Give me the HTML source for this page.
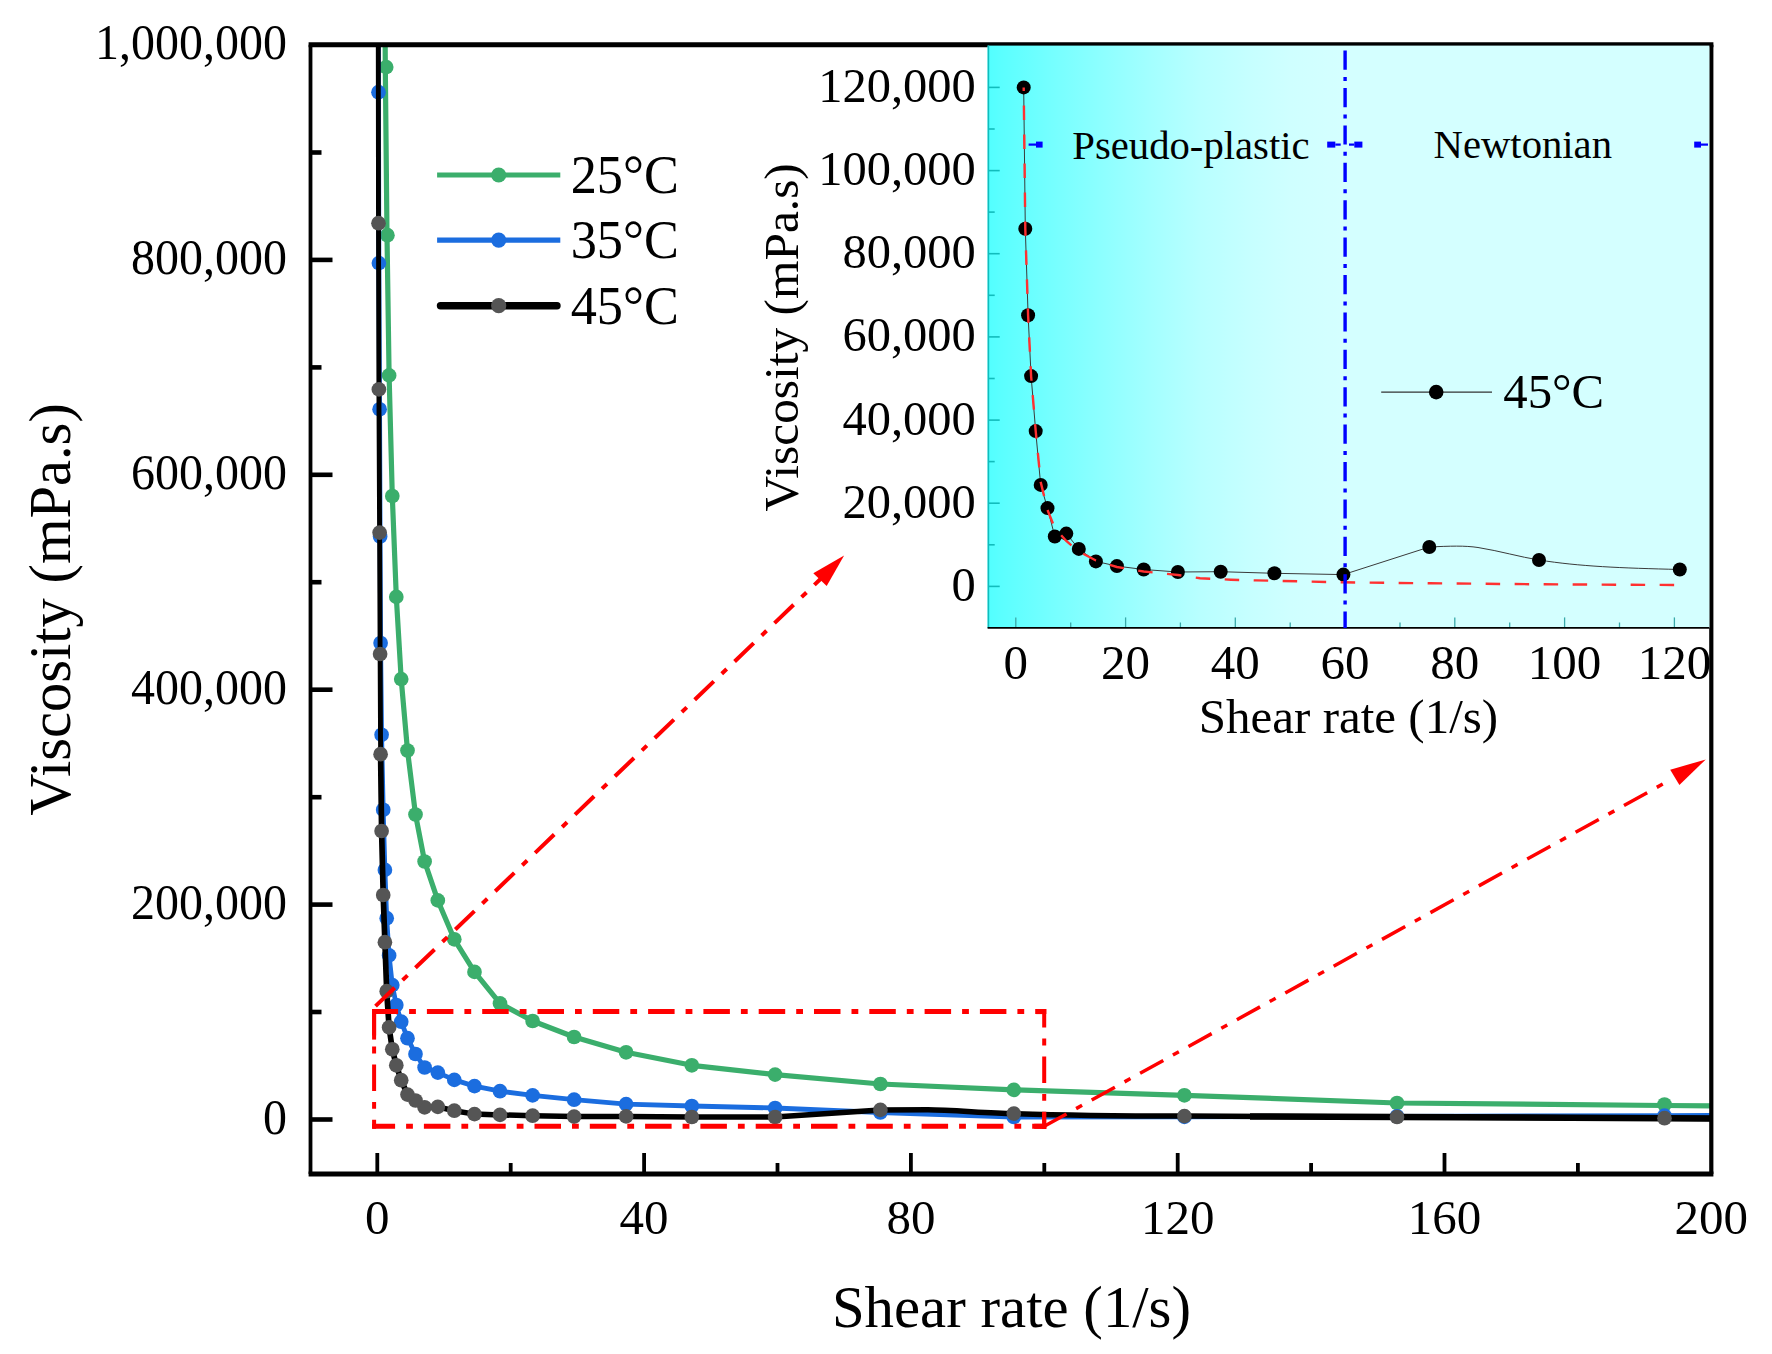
<!DOCTYPE html>
<html><head><meta charset="utf-8"><title>Viscosity vs shear rate</title>
<style>
html,body{margin:0;padding:0;background:#fff;}
body{width:1772px;height:1354px;overflow:hidden;}
svg{display:block;}
text{font-family:"Liberation Serif", "Times New Roman", serif;fill:#000;}
</style></head><body>
<svg width="1772" height="1354" viewBox="0 0 1772 1354">
<defs>
<linearGradient id="ig" gradientUnits="userSpaceOnUse" x1="988" y1="0" x2="1711" y2="0">
<stop offset="0.0000" stop-color="rgb(82,255,255)"/><stop offset="0.0166" stop-color="rgb(90,255,255)"/><stop offset="0.0858" stop-color="rgb(116,255,255)"/><stop offset="0.1549" stop-color="rgb(140,255,255)"/><stop offset="0.2241" stop-color="rgb(163,255,255)"/><stop offset="0.2932" stop-color="rgb(184,255,255)"/><stop offset="0.3624" stop-color="rgb(198,255,255)"/><stop offset="0.4177" stop-color="rgb(207,255,255)"/><stop offset="0.4869" stop-color="rgb(212,255,255)"/><stop offset="1.0000" stop-color="rgb(212,255,255)"/></linearGradient>
<clipPath id="mc"><rect x="310.5" y="44.7" width="1400.8" height="1129.3"/></clipPath>
</defs>
<rect width="1772" height="1354" fill="#fff"/>
<g clip-path="url(#mc)">
<path d="M1711.3,1105.9 L1664.5,1105.5 L1397.0,1103.0 L1184.4,1095.3 L1013.8,1089.9 L880.4,1084.0 L775.1,1074.6 L691.8,1065.3 L626.1,1052.3 L574.1,1037.0 L532.6,1021.0 L500.0,1003.4 L474.5,971.9 L454.3,939.3 L437.8,900.4 L424.6,861.5 L415.5,814.5 L407.5,750.5 L401.2,679.1 L396.3,596.9 L392.3,496.0 L389.1,375.4 L387.0,235.2 L385.3,67.1 L384.2,-140.0" fill="none" stroke="#3bae6c" stroke-width="5.2" stroke-linejoin="round"/>
<circle cx="1664.5" cy="1104.5" r="7.35" fill="#3bae6c"/><circle cx="1397.0" cy="1103.0" r="7.35" fill="#3bae6c"/><circle cx="1184.4" cy="1095.3" r="7.35" fill="#3bae6c"/><circle cx="1013.8" cy="1089.9" r="7.35" fill="#3bae6c"/><circle cx="880.4" cy="1084.0" r="7.35" fill="#3bae6c"/><circle cx="775.1" cy="1074.6" r="7.35" fill="#3bae6c"/><circle cx="691.8" cy="1065.3" r="7.35" fill="#3bae6c"/><circle cx="626.1" cy="1052.3" r="7.35" fill="#3bae6c"/><circle cx="574.1" cy="1037.0" r="7.35" fill="#3bae6c"/><circle cx="532.6" cy="1021.0" r="7.35" fill="#3bae6c"/><circle cx="500.0" cy="1003.4" r="7.35" fill="#3bae6c"/><circle cx="474.5" cy="971.9" r="7.35" fill="#3bae6c"/><circle cx="454.3" cy="939.3" r="7.35" fill="#3bae6c"/><circle cx="437.8" cy="900.4" r="7.35" fill="#3bae6c"/><circle cx="424.6" cy="861.5" r="7.35" fill="#3bae6c"/><circle cx="415.5" cy="814.5" r="7.35" fill="#3bae6c"/><circle cx="407.5" cy="750.5" r="7.35" fill="#3bae6c"/><circle cx="401.2" cy="679.1" r="7.35" fill="#3bae6c"/><circle cx="396.3" cy="596.9" r="7.35" fill="#3bae6c"/><circle cx="392.3" cy="496.0" r="7.35" fill="#3bae6c"/><circle cx="389.1" cy="375.4" r="7.35" fill="#3bae6c"/><circle cx="387.4" cy="235.2" r="7.35" fill="#3bae6c"/><circle cx="386.2" cy="67.1" r="7.35" fill="#3bae6c"/>
<path d="M1711.3,1115.5 L1664.5,1115.7 L1397.0,1116.3 L1184.4,1116.9 L1013.8,1117.0 L880.4,1112.5 L775.1,1108.0 L691.8,1106.0 L626.1,1104.1 L574.1,1099.7 L532.6,1095.4 L500.0,1091.2 L474.5,1086.1 L454.3,1079.9 L437.8,1072.6 L424.6,1067.5 L415.5,1054.0 L407.5,1038.2 L401.2,1021.7 L396.3,1005.0 L392.3,985.1 L389.1,955.4 L386.7,918.2 L384.9,869.9 L383.2,809.8 L381.6,734.8 L380.6,643.0 L380.1,536.5 L379.6,409.3 L378.9,263.1 L378.5,92.2 L378.2,-100.0" fill="none" stroke="#1b6ddf" stroke-width="4.8" stroke-linejoin="round"/>
<circle cx="1664.5" cy="1115.7" r="7.35" fill="#1b6ddf"/><circle cx="1397.0" cy="1116.3" r="7.35" fill="#1b6ddf"/><circle cx="1184.4" cy="1116.9" r="7.35" fill="#1b6ddf"/><circle cx="1013.8" cy="1117.0" r="7.35" fill="#1b6ddf"/><circle cx="880.4" cy="1112.5" r="7.35" fill="#1b6ddf"/><circle cx="775.1" cy="1108.0" r="7.35" fill="#1b6ddf"/><circle cx="691.8" cy="1106.0" r="7.35" fill="#1b6ddf"/><circle cx="626.1" cy="1104.1" r="7.35" fill="#1b6ddf"/><circle cx="574.1" cy="1099.7" r="7.35" fill="#1b6ddf"/><circle cx="532.6" cy="1095.4" r="7.35" fill="#1b6ddf"/><circle cx="500.0" cy="1091.2" r="7.35" fill="#1b6ddf"/><circle cx="474.5" cy="1086.1" r="7.35" fill="#1b6ddf"/><circle cx="454.3" cy="1079.9" r="7.35" fill="#1b6ddf"/><circle cx="437.8" cy="1072.6" r="7.35" fill="#1b6ddf"/><circle cx="424.6" cy="1067.5" r="7.35" fill="#1b6ddf"/><circle cx="415.5" cy="1054.0" r="7.35" fill="#1b6ddf"/><circle cx="407.5" cy="1038.2" r="7.35" fill="#1b6ddf"/><circle cx="401.2" cy="1021.7" r="7.35" fill="#1b6ddf"/><circle cx="396.3" cy="1005.0" r="7.35" fill="#1b6ddf"/><circle cx="392.3" cy="985.1" r="7.35" fill="#1b6ddf"/><circle cx="389.1" cy="955.4" r="7.35" fill="#1b6ddf"/><circle cx="386.7" cy="918.2" r="7.35" fill="#1b6ddf"/><circle cx="384.9" cy="869.9" r="7.35" fill="#1b6ddf"/><circle cx="383.2" cy="809.8" r="7.35" fill="#1b6ddf"/><circle cx="381.6" cy="734.8" r="7.35" fill="#1b6ddf"/><circle cx="380.6" cy="643.0" r="7.35" fill="#1b6ddf"/><circle cx="380.1" cy="536.5" r="7.35" fill="#1b6ddf"/><circle cx="379.6" cy="409.3" r="7.35" fill="#1b6ddf"/><circle cx="378.9" cy="263.1" r="7.35" fill="#1b6ddf"/><circle cx="378.5" cy="92.2" r="7.35" fill="#1b6ddf"/>
<path d="M1711.3,1118.5 L1664.5,1118.2 L1397,1117 L1184.4,1116.1 C1080,1115.8 1050,1114.8 1013.8,1113.6 C985,1112.8 950,1110 928,1109.8 L880.4,1109.9 L775.1,1117 L691.8,1117.0 L626.1,1116.4 L574.1,1116.6 L532.6,1115.7 L500.0,1114.9 L474.5,1114.1 L454.3,1110.7 L437.8,1106.9 L424.6,1107.3 L415.5,1100.5 L407.5,1094.6" fill="none" stroke="#000" stroke-width="5.5" stroke-linejoin="round"/><path d="M1711.3,1118.5 L1664.5,1118.2 L1397,1117 L1250,1116.5" fill="none" stroke="#000" stroke-width="6.5" stroke-linejoin="round"/><path d="M407.5,1094.6 L401.2,1080.2 L396.3,1065.3 L392.3,1049.3 L389.1,1027.4 L386.7,991.2 L384.9,942.2 L383.2,895.0 L381.6,831.0 L380.6,754.2" fill="none" stroke="#000" stroke-width="5.7" stroke-linejoin="round"/><path d="M380.6,754.2 L380.1,654.0 L379.6,532.6 L378.9,389.4 L378.5,223.2 L378.2,-20.0" fill="none" stroke="#000" stroke-width="4.9" stroke-linejoin="round"/><path d="M1711.3,1118.5 L1664.5,1118.2 L1397.0,1117.0 L1184.4,1116.1 L1013.8,1113.6 L880.4,1109.9 L775.1,1117.0 L691.8,1117.0 L626.1,1116.4 L574.1,1116.6 L532.6,1115.7 L500.0,1114.9 L474.5,1114.1 L454.3,1110.7 L437.8,1106.9 L424.6,1107.3 L415.5,1100.5 L407.5,1094.6 L401.2,1080.2 L396.3,1065.3 L392.3,1049.3 L389.1,1027.4 L386.7,991.2 L384.9,942.2 L383.2,895.0 L381.6,831.0 L380.6,754.2 L380.1,654.0 L379.6,532.6 L378.9,389.4 L378.5,223.2 L378.2,-20.0" fill="none" stroke="none" stroke-width="0" stroke-linejoin="round"/>
<circle cx="1664.5" cy="1118.2" r="7.35" fill="#555555"/><circle cx="1397.0" cy="1117.0" r="7.35" fill="#555555"/><circle cx="1184.4" cy="1116.1" r="7.35" fill="#555555"/><circle cx="1013.8" cy="1113.6" r="7.35" fill="#555555"/><circle cx="880.4" cy="1109.9" r="7.35" fill="#555555"/><circle cx="775.1" cy="1117.0" r="7.35" fill="#555555"/><circle cx="691.8" cy="1117.0" r="7.35" fill="#555555"/><circle cx="626.1" cy="1116.4" r="7.35" fill="#555555"/><circle cx="574.1" cy="1116.6" r="7.35" fill="#555555"/><circle cx="532.6" cy="1115.7" r="7.35" fill="#555555"/><circle cx="500.0" cy="1114.9" r="7.35" fill="#555555"/><circle cx="474.5" cy="1114.1" r="7.35" fill="#555555"/><circle cx="454.3" cy="1110.7" r="7.35" fill="#555555"/><circle cx="437.8" cy="1106.9" r="7.35" fill="#555555"/><circle cx="424.6" cy="1107.3" r="7.35" fill="#555555"/><circle cx="415.5" cy="1100.5" r="7.35" fill="#555555"/><circle cx="407.5" cy="1094.6" r="7.35" fill="#555555"/><circle cx="401.2" cy="1080.2" r="7.35" fill="#555555"/><circle cx="396.3" cy="1065.3" r="7.35" fill="#555555"/><circle cx="392.3" cy="1049.3" r="7.35" fill="#555555"/><circle cx="389.1" cy="1027.4" r="7.35" fill="#555555"/><circle cx="386.7" cy="991.2" r="7.35" fill="#555555"/><circle cx="384.9" cy="942.2" r="7.35" fill="#555555"/><circle cx="383.2" cy="895.0" r="7.35" fill="#555555"/><circle cx="381.6" cy="831.0" r="7.35" fill="#555555"/><circle cx="380.6" cy="754.2" r="7.35" fill="#555555"/><circle cx="380.1" cy="654.0" r="7.35" fill="#555555"/><circle cx="379.6" cy="532.6" r="7.35" fill="#555555"/><circle cx="378.9" cy="389.4" r="7.35" fill="#555555"/><circle cx="378.5" cy="223.2" r="7.35" fill="#555555"/>
</g>
<g stroke="#ff0000" fill="none">
<line x1="372.1" y1="1011.6" x2="1046.2" y2="1011.6" stroke-width="5" stroke-dasharray="26.5 11 6.8 11" stroke-dashoffset="0.5"/>
<line x1="372.1" y1="1126.3" x2="1046.2" y2="1126.3" stroke-width="5" stroke-dasharray="26.5 11 6.8 11" stroke-dashoffset="3.5"/>
<line x1="374.1" y1="1009.1" x2="374.1" y2="1128.8" stroke-width="4" stroke-dasharray="26.5 11 6.8 11" stroke-dashoffset="0"/><line x1="374.1" y1="1011.6" x2="374.1" y2="1039.6" stroke-width="4"/>
<line x1="1044.2" y1="1009.1" x2="1044.2" y2="1128.8" stroke-width="4" stroke-dasharray="26.5 11 6.8 11" stroke-dashoffset="8"/>
<line x1="1036.2" y1="1011.6" x2="1046.2" y2="1011.6" stroke-width="5"/><line x1="1034.2" y1="1126.3" x2="1046.2" y2="1126.3" stroke-width="5"/><line x1="1044.2" y1="1112.3" x2="1044.2" y2="1128.8" stroke-width="4"/><line x1="373" y1="1008.5" x2="821" y2="578.5" stroke-width="4.0" stroke-dasharray="26.5 11 6.8 11" stroke-dashoffset="-3.5"/>
<line x1="1044.2" y1="1126.3" x2="1664" y2="783.4" stroke-width="3.5" stroke-dasharray="26.5 11 6.8 11" stroke-dashoffset="1"/>
</g>
<polygon points="844.1,555.6 813.3,573.3 826.7,586" fill="#ff0000"/>
<polygon points="1705.8,759.4 1670.2,769.8 1679.4,785" fill="#ff0000"/>
<g stroke="#000" fill="none">
<line x1="377.3" y1="1174.0" x2="377.3" y2="1153.0" stroke-width="3.8"/><line x1="510.7" y1="1174.0" x2="510.7" y2="1163.0" stroke-width="3.8"/><line x1="644.1" y1="1174.0" x2="644.1" y2="1153.0" stroke-width="3.8"/><line x1="777.5" y1="1174.0" x2="777.5" y2="1163.0" stroke-width="3.8"/><line x1="910.9" y1="1174.0" x2="910.9" y2="1153.0" stroke-width="3.8"/><line x1="1044.3" y1="1174.0" x2="1044.3" y2="1163.0" stroke-width="3.8"/><line x1="1177.7" y1="1174.0" x2="1177.7" y2="1153.0" stroke-width="3.8"/><line x1="1311.1" y1="1174.0" x2="1311.1" y2="1163.0" stroke-width="3.8"/><line x1="1444.5" y1="1174.0" x2="1444.5" y2="1153.0" stroke-width="3.8"/><line x1="1577.9" y1="1174.0" x2="1577.9" y2="1163.0" stroke-width="3.8"/>
<line x1="310.5" y1="1119.5" x2="332.5" y2="1119.5" stroke-width="4.6"/><line x1="310.5" y1="1012.0" x2="321.5" y2="1012.0" stroke-width="4.6"/><line x1="310.5" y1="904.6" x2="332.5" y2="904.6" stroke-width="4.6"/><line x1="310.5" y1="797.2" x2="321.5" y2="797.2" stroke-width="4.6"/><line x1="310.5" y1="689.7" x2="332.5" y2="689.7" stroke-width="4.6"/><line x1="310.5" y1="582.2" x2="321.5" y2="582.2" stroke-width="4.6"/><line x1="310.5" y1="474.8" x2="332.5" y2="474.8" stroke-width="4.6"/><line x1="310.5" y1="367.4" x2="321.5" y2="367.4" stroke-width="4.6"/><line x1="310.5" y1="259.9" x2="332.5" y2="259.9" stroke-width="4.6"/><line x1="310.5" y1="152.5" x2="321.5" y2="152.5" stroke-width="4.6"/>
<line x1="308.6" y1="44.7" x2="1713.4" y2="44.7" stroke-width="5.0"/><line x1="308.6" y1="1174.0" x2="1713.4" y2="1174.0" stroke-width="5.0"/><line x1="310.5" y1="44.7" x2="310.5" y2="1174.0" stroke-width="3.8"/><line x1="1711.3" y1="44.7" x2="1711.3" y2="1174.0" stroke-width="4.2"/></g>
<rect x="987.6" y="45.6" width="721.8000000000001" height="582.4" fill="url(#ig)"/>
<g stroke="#12bcbc" stroke-width="1.6" fill="none">
<line x1="988.4" y1="45.5" x2="988.4" y2="627.9"/>
<line x1="988.4" y1="586.4" x2="999.6999999999999" y2="586.4"/><line x1="988.4" y1="544.8" x2="994.6999999999999" y2="544.8"/><line x1="988.4" y1="503.2" x2="999.6999999999999" y2="503.2"/><line x1="988.4" y1="461.6" x2="994.6999999999999" y2="461.6"/><line x1="988.4" y1="420.1" x2="999.6999999999999" y2="420.1"/><line x1="988.4" y1="378.5" x2="994.6999999999999" y2="378.5"/><line x1="988.4" y1="336.9" x2="999.6999999999999" y2="336.9"/><line x1="988.4" y1="295.3" x2="994.6999999999999" y2="295.3"/><line x1="988.4" y1="253.7" x2="999.6999999999999" y2="253.7"/><line x1="988.4" y1="212.1" x2="994.6999999999999" y2="212.1"/><line x1="988.4" y1="170.6" x2="999.6999999999999" y2="170.6"/><line x1="988.4" y1="129.0" x2="994.6999999999999" y2="129.0"/><line x1="988.4" y1="87.4" x2="999.6999999999999" y2="87.4"/>
<line x1="1015.8" y1="627.9" x2="1015.8" y2="617.4" stroke="#3aa9a9" stroke-width="1.3"/><line x1="1070.7" y1="627.9" x2="1070.7" y2="622.5" stroke="#3aa9a9" stroke-width="1.3"/><line x1="1125.6" y1="627.9" x2="1125.6" y2="617.4" stroke="#3aa9a9" stroke-width="1.3"/><line x1="1180.4" y1="627.9" x2="1180.4" y2="622.5" stroke="#3aa9a9" stroke-width="1.3"/><line x1="1235.3" y1="627.9" x2="1235.3" y2="617.4" stroke="#3aa9a9" stroke-width="1.3"/><line x1="1290.2" y1="627.9" x2="1290.2" y2="622.5" stroke="#3aa9a9" stroke-width="1.3"/><line x1="1345.1" y1="627.9" x2="1345.1" y2="617.4" stroke="#3aa9a9" stroke-width="1.3"/><line x1="1400.0" y1="627.9" x2="1400.0" y2="622.5" stroke="#3aa9a9" stroke-width="1.3"/><line x1="1454.8" y1="627.9" x2="1454.8" y2="617.4" stroke="#3aa9a9" stroke-width="1.3"/><line x1="1509.7" y1="627.9" x2="1509.7" y2="622.5" stroke="#3aa9a9" stroke-width="1.3"/><line x1="1564.6" y1="627.9" x2="1564.6" y2="617.4" stroke="#3aa9a9" stroke-width="1.3"/><line x1="1619.5" y1="627.9" x2="1619.5" y2="622.5" stroke="#3aa9a9" stroke-width="1.3"/><line x1="1674.4" y1="627.9" x2="1674.4" y2="617.4" stroke="#3aa9a9" stroke-width="1.3"/></g>
<line x1="987.6" y1="627.9" x2="1709.4" y2="627.9" stroke="#000" stroke-width="1.6"/>
<rect x="1036" y="141.6" width="6.599999999999909" height="6" fill="#0000ff"/><rect x="1028.6" y="143.5" width="7.400000000000091" height="2.2" fill="#0000ff"/><rect x="1327.2" y="141.6" width="8.099999999999909" height="6" fill="#0000ff"/><rect x="1335.3" y="143.5" width="5.400000000000091" height="2.2" fill="#0000ff"/><rect x="1354.3" y="141.6" width="8.100000000000136" height="6" fill="#0000ff"/><rect x="1349" y="143.5" width="5.2999999999999545" height="2.2" fill="#0000ff"/><rect x="1694.2" y="141.6" width="6.7999999999999545" height="6" fill="#0000ff"/><rect x="1701" y="143.5" width="7" height="2.2" fill="#0000ff"/>
<path d="M1023.7,87.4 L1025.3,228.8 L1028.1,315.2 L1031.1,376.1 L1035.7,431.1 L1040.7,484.9 L1047.5,508.1 L1054.8,536.5 L1066.3,533.6 L1078.8,548.9 L1095.9,561.4 L1116.9,566.1 L1143.7,569.5 L1177.9,572 L1220.7,571.7 L1274.4,573.3 L1343.4,574.6 L1429.3,547 C1450,546 1465,545.5 1478,547.5 C1500,551 1520,557 1539,560 C1580,566.5 1620,568 1679.8,569.5" fill="none" stroke="#3a3a3a" stroke-width="1.0"/>
<circle cx="1023.7" cy="87.4" r="7" fill="#000"/><circle cx="1025.3" cy="228.8" r="7" fill="#000"/><circle cx="1028.1" cy="315.2" r="7" fill="#000"/><circle cx="1031.1" cy="376.1" r="7" fill="#000"/><circle cx="1035.7" cy="431.1" r="7" fill="#000"/><circle cx="1040.7" cy="484.9" r="7" fill="#000"/><circle cx="1047.5" cy="508.1" r="7" fill="#000"/><circle cx="1054.8" cy="536.5" r="7" fill="#000"/><circle cx="1066.3" cy="533.6" r="7" fill="#000"/><circle cx="1078.8" cy="548.9" r="7" fill="#000"/><circle cx="1095.9" cy="561.4" r="7" fill="#000"/><circle cx="1116.9" cy="566.1" r="7" fill="#000"/><circle cx="1143.7" cy="569.5" r="7" fill="#000"/><circle cx="1177.9" cy="572" r="7" fill="#000"/><circle cx="1220.7" cy="571.7" r="7" fill="#000"/><circle cx="1274.4" cy="573.3" r="7" fill="#000"/><circle cx="1343.4" cy="574.6" r="7" fill="#000"/><circle cx="1429.3" cy="547" r="7" fill="#000"/><circle cx="1539" cy="560" r="7" fill="#000"/><circle cx="1679.8" cy="569.5" r="7" fill="#000"/>
<path d="M1023.7,87.4 L1025.3,228.8 L1028.1,315.2 L1031.1,376.1 L1035.7,431.1 L1040.7,482 L1047.5,510 L1054.8,528 L1066.3,541 L1078.8,551.5 L1095.9,560.5 L1116.9,567 L1143.7,571.5 L1177.9,575 L1200,578.2 L1231,579.7 L1256,580.4 L1343,582.3 L1430,583.3 L1540,584.3 L1679,585" fill="none" stroke="#ff3030" stroke-width="2.4" stroke-dasharray="14.5 14.5" stroke-dashoffset="-18"/>
<line x1="1345.1" y1="50.6" x2="1345.1" y2="627.9" stroke="#0000ff" stroke-width="3.4" stroke-dasharray="19.2 7.2 4 7"/>
<line x1="1381.2" y1="392.1" x2="1492" y2="392.1" stroke="#333" stroke-width="1.2"/><circle cx="1436.2" cy="392.1" r="7.3" fill="#000"/>
<text transform="translate(1503.3,408.3) scale(1.0,0.99)" font-size="48.8">45°C</text>
<text transform="translate(1072.3,159.2) scale(1.0,0.98)" font-size="40.7">Pseudo-plastic</text>
<text transform="translate(1433.5,158.2) scale(1.0,0.98)" font-size="40.7">Newtonian</text>
<text transform="translate(975.8,600.8) scale(1.0,0.995)" font-size="48.5" text-anchor="end">0</text><text transform="translate(975.8,517.6) scale(1.0,0.995)" font-size="48.5" text-anchor="end">20,000</text><text transform="translate(975.8,434.5) scale(1.0,0.995)" font-size="48.5" text-anchor="end">40,000</text><text transform="translate(975.8,351.3) scale(1.0,0.995)" font-size="48.5" text-anchor="end">60,000</text><text transform="translate(975.8,268.1) scale(1.0,0.995)" font-size="48.5" text-anchor="end">80,000</text><text transform="translate(975.8,185.0) scale(1.0,0.995)" font-size="48.5" text-anchor="end">100,000</text><text transform="translate(975.8,101.8) scale(1.0,0.995)" font-size="48.5" text-anchor="end">120,000</text>
<text transform="translate(1015.8,679.0) scale(1.0,0.985)" font-size="49" text-anchor="middle">0</text><text transform="translate(1125.6,679.0) scale(1.0,0.985)" font-size="49" text-anchor="middle">20</text><text transform="translate(1235.3,679.0) scale(1.0,0.985)" font-size="49" text-anchor="middle">40</text><text transform="translate(1345.1,679.0) scale(1.0,0.985)" font-size="49" text-anchor="middle">60</text><text transform="translate(1454.8,679.0) scale(1.0,0.985)" font-size="49" text-anchor="middle">80</text><text transform="translate(1564.6,679.0) scale(1.0,0.985)" font-size="49" text-anchor="middle">100</text><text transform="translate(1674.4,679.0) scale(1.0,0.985)" font-size="49" text-anchor="middle">120</text>
<text transform="translate(1348.5,733) scale(1.0,1.0)" font-size="49" text-anchor="middle">Shear rate (1/s)</text>
<text transform="translate(797.5,337.3) rotate(-90) scale(1.0,1.0)" font-size="49.4" text-anchor="middle">Viscosity (mPa.s)</text>
<text transform="translate(287.0,1133.7) scale(1.0,1.045)" font-size="48" text-anchor="end">0</text><text transform="translate(287.0,918.8) scale(1.0,1.045)" font-size="48" text-anchor="end">200,000</text><text transform="translate(287.0,703.9) scale(1.0,1.045)" font-size="48" text-anchor="end">400,000</text><text transform="translate(287.0,489.0) scale(1.0,1.045)" font-size="48" text-anchor="end">600,000</text><text transform="translate(287.0,274.1) scale(1.0,1.045)" font-size="48" text-anchor="end">800,000</text><text transform="translate(287.0,59.2) scale(1.0,1.045)" font-size="48" text-anchor="end">1,000,000</text>
<text transform="translate(377.3,1234.3) scale(1.0,0.985)" font-size="49" text-anchor="middle">0</text><text transform="translate(644.1,1234.3) scale(1.0,0.985)" font-size="49" text-anchor="middle">40</text><text transform="translate(910.9,1234.3) scale(1.0,0.985)" font-size="49" text-anchor="middle">80</text><text transform="translate(1177.7,1234.3) scale(1.0,0.985)" font-size="49" text-anchor="middle">120</text><text transform="translate(1444.5,1234.3) scale(1.0,0.985)" font-size="49" text-anchor="middle">160</text><text transform="translate(1711.3,1234.3) scale(1.0,0.985)" font-size="49" text-anchor="middle">200</text>
<text transform="translate(1011.5,1327) scale(1.0,1.0)" font-size="58.8" text-anchor="middle">Shear rate (1/s)</text>
<text transform="translate(69.7,609.4) rotate(-90) scale(1.0,1.0)" font-size="58.5" text-anchor="middle">Viscosity (mPa.s)</text>
<line x1="437.1" y1="175.0" x2="560.3" y2="175.0" stroke="#3bae6c" stroke-width="5.1"/><circle cx="498.7" cy="175.0" r="7.6" fill="#3bae6c"/><text transform="translate(570.7,192.5) scale(1.0,1.035)" font-size="52.3">25°C</text>
<line x1="437.1" y1="240.1" x2="560.3" y2="240.1" stroke="#1b6ddf" stroke-width="5.1"/><circle cx="498.7" cy="240.1" r="7.6" fill="#1b6ddf"/><text transform="translate(570.7,258.0) scale(1.0,1.035)" font-size="52.3">35°C</text>
<line x1="440.5" y1="305.7" x2="557" y2="305.7" stroke="#000" stroke-width="7.4" stroke-linecap="round"/><circle cx="498.7" cy="305.7" r="7.6" fill="#555555"/><text transform="translate(570.7,323.7) scale(1.0,1.035)" font-size="52.3">45°C</text>
</svg></body></html>
